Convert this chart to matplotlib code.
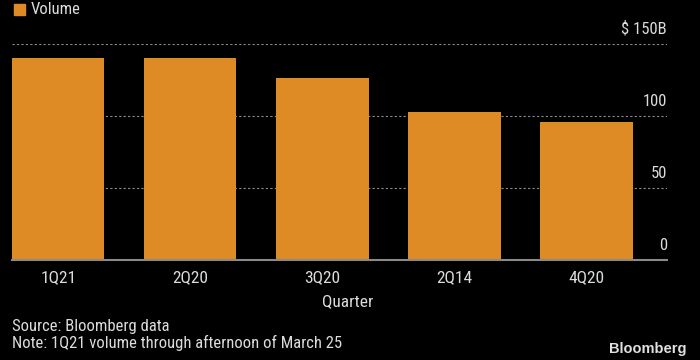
import matplotlib
matplotlib.use("Agg")
import matplotlib.pyplot as plt
from matplotlib import font_manager

# pick a narrow font if one is installed
names = set(f.name for f in font_manager.fontManager.ttflist)
narrow = "DejaVu Sans"
for cand in ["Liberation Sans Narrow", "DejaVu Sans Condensed", "Roboto Condensed", "Open Sans Condensed"]:
    if cand in names:
        narrow = cand
        break
plt.rcParams['font.family'] = [narrow, 'DejaVu Sans']

quarters = ["1Q21", "2Q20", "3Q20", "2Q14", "4Q20"]
volume = [140, 140, 126, 103, 95.6]
yticks = [0, 50, 100, 150]
ytick_labels = ["0", "50", "100", "$ 150B"]

bar_color = "#de8b26"
text_color = "#dcdcdc"
grid_color = "#8a8a8a"

fig = plt.figure(figsize=(7, 3.6), dpi=100, facecolor="black")
ax = fig.add_axes([12/700, 1 - 260.3/360, (667-12)/700, (260.3-43.7)/360])
ax.set_facecolor("black")

x = range(len(quarters))
ax.bar(x, volume, width=0.7, color=bar_color, zorder=2)
ax.set_xlim(-0.35, 4.61)
ax.set_ylim(0, 150)

for s in ["top", "left", "right"]:
    ax.spines[s].set_visible(False)
ax.spines["bottom"].set_color(grid_color)
ax.spines["bottom"].set_linewidth(1.5)
ax.spines["bottom"].set_zorder(3)

for v in yticks[1:]:
    ax.axhline(v, color=grid_color, linestyle=(0, (2, 2)), linewidth=0.8, zorder=1)
ax.set_yticks([])
for v, lab in zip(yticks, ytick_labels):
    ax.text(1.0, v + 5, lab, transform=ax.get_yaxis_transform(), ha="right", va="bottom",
            color=text_color, fontsize=12)

ax.set_xticks(list(x))
ax.set_xticklabels(quarters, color=text_color, fontsize=12.5)
ax.tick_params(axis="x", length=0, pad=7)

fig.text(348/700, 1 - 301.7/360, "Quarter", ha="center", va="center", color=text_color, fontsize=12.5)

# legend
fig.patches.append(plt.Rectangle((14/700, 1 - 15/360), 11/700, 11/360, transform=fig.transFigure,
                                 color=bar_color, figure=fig))
fig.text(31/700, 1 - 9.5/360, "Volume", ha="left", va="center", color=text_color, fontsize=12)

fig.text(12/700, 1 - 327/360, "Source: Bloomberg data", ha="left", va="center", color=text_color, fontsize=12)
fig.text(12/700, 1 - 343/360, "Note: 1Q21 volume through afternoon of March 25", ha="left", va="center",
         color=text_color, fontsize=12)
fig.text(686/700, 1 - 349/360, "Bloomberg", ha="right", va="center", color="#e0e0e0", fontsize=10.5,
         fontweight="bold", family=["Liberation Sans", "DejaVu Sans"])

fig.savefig("out.png", dpi=100, facecolor="black")
